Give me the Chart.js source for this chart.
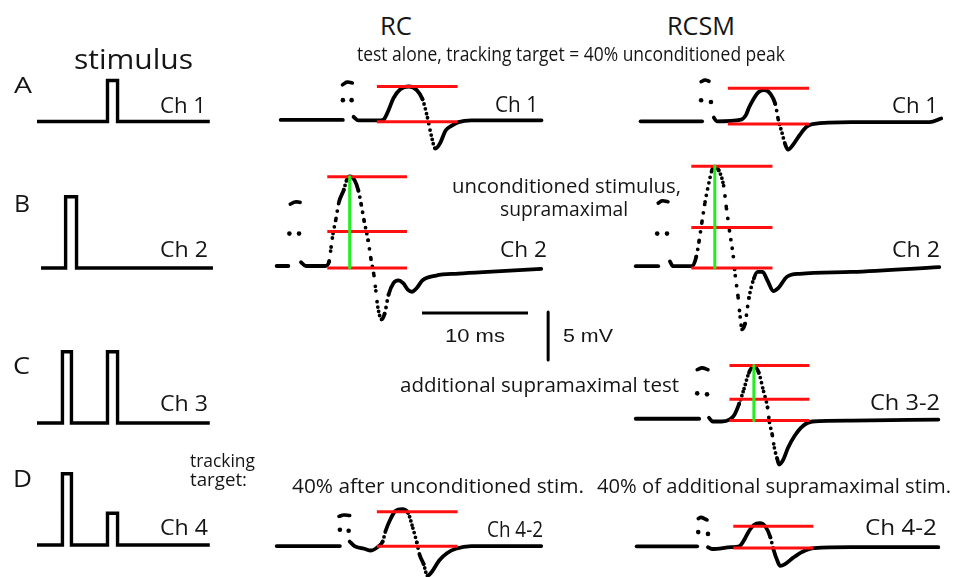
<!DOCTYPE html>
<html><head><meta charset="utf-8">
<script src="https://cdn.jsdelivr.net/npm/chart.js@4.4.1/dist/chart.umd.min.js"></script>
<style>
html,body{margin:0;padding:0;background:#fff;width:954px;height:577px;overflow:hidden;position:relative}
canvas{position:absolute}
.lbl{position:absolute;white-space:pre;line-height:1;color:#151515;font-family:'Open Sans',sans-serif;transform-origin:0 0}
</style></head><body>
<script>
// ---------- DATA (time in ms, voltage in mV, stimulus in relative amplitude) ----------
// stimulus channels
const stimA_t = [0, 6.65, 6.65, 7.6, 7.6, 16.3];
const stimA_a = [0, 0, 0.57, 0.57, 0, 0];
const stimB_t = [0.38, 2.7, 2.7, 3.73, 3.73, 16.6];
const stimB_a = [0, 0, 0.99, 0.99, 0, 0];
const stimC_t = [0, 2.4, 2.4, 3.25, 3.25, 6.65, 6.65, 7.6, 7.6, 16.3];
const stimC_a = [0, 0, 0.99, 0.99, 0, 0, 0.99, 0.99, 0, 0];
const stimD_t = [0, 2.4, 2.4, 3.25, 3.25, 6.65, 6.65, 7.6, 7.6, 16.3];
const stimD_a = [0, 0, 0.99, 0.99, 0, 0, 0.44, 0.44, 0, 0];

// RC, row A
const rcA_pre = [-6.5, -0.47];
const rcA_art_t = [-0.5, -0.05, 0.45];
const rcA_art_v = [4.05, 4.35, 4.25];
const rcA_dot_t = [-0.47, 0.38];
const rcA_dot_v = [2.3, 2.3];
const rcA_t = [0.57, 1.04, 3.2, 3.5, 3.96, 4.43, 5.1, 5.94, 6.7, 7.26, 7.74, 8.1, 8.5, 8.96, 9.5, 10.1, 10.75, 12.0, 18.8];
const rcA_v = [0.4, 0, 0, 0.1, 1.15, 2.5, 3.54, 3.85, 3.44, 2.4, 0.3, -1.67, -3.2, -2.6, -1.15, -0.6, -0.2, 0, 0];
const rcA_levels = [3.85, -0.15];
const rcA_win = [2.83, 10.66];

// RCSM, row A
const smA_pre = [-6.23, -0.28];
const smA_art_t = [-0.38, 0, 0.38];
const smA_art_v = [4.5, 4.7, 4.55];
const smA_dot_t = [-0.38, 0.57];
const smA_dot_v = [2.4, 2.19];
const smA_t = [0.85, 1.13, 3.49, 3.96, 4.25, 4.72, 5.19, 5.75, 6.32, 6.79, 7.08, 7.45, 7.74, 8.02, 8.49, 9.15, 9.81, 10.38, 14.15, 21.7, 22.83];
const smA_v = [0.42, 0, 0.2, 0.73, 1.56, 2.6, 3.33, 3.54, 3.13, 1.98, 0.2, -1.35, -2.6, -3.23, -2.7, -1.56, -0.63, -0.31, -0.1, -0.1, 0.31];
const smA_levels = [3.75, -0.31];
const smA_win = [2.2, 10.05];

// RC, row B (unconditioned, supramaximal)
const rcB_pre = [-1.7, -0.57];
const rcB_art_t = [-0.38, 0.09, 0.57];
const rcB_art_v = [6.75, 7.0, 6.95];
const rcB_dot_t = [-0.47, 0.47];
const rcB_dot_v = [3.54, 3.54];
const rcB_t = [0.66, 1.13, 3.02, 3.4, 3.58, 3.77, 4.06, 4.34, 4.81, 5.09, 5.38, 5.85, 6.23, 6.51, 6.79, 7.17, 7.45, 7.74, 7.92, 8.11, 8.49, 8.77, 9.15, 9.62, 10.09, 10.57, 11.04, 11.42, 11.89, 12.45, 13.77, 15.94, 18.77, 23.96];
const rcB_v = [0.42, 0, 0, 0.52, 2.08, 3.54, 5.21, 6.98, 8.33, 9.38, 9.79, 9.38, 8.23, 6.67, 4.9, 2.81, 0.73, -1.04, -2.71, -4.48, -5.83, -5.21, -3.13, -1.88, -1.56, -1.88, -2.6, -2.81, -2.4, -1.56, -1.04, -0.83, -0.63, -0.31];
const rcB_levels = [9.76, 3.78, -0.21];
const rcB_win = [3.21, 10.94];
const rcB_peak = 5.38;

// RCSM, row B
const smB_pre = [-2.64, -0.47];
const smB_art_t = [-0.47, -0.09, 0.47];
const smB_art_v = [6.85, 7.1, 7.0];
const smB_dot_t = [-0.57, 0.38];
const smB_dot_v = [3.54, 3.54];
const smB_t = [0.66, 0.94, 2.83, 3.21, 3.49, 3.77, 4.06, 4.43, 4.72, 5.0, 5.38, 5.85, 6.13, 6.42, 6.79, 6.98, 7.26, 7.45, 7.64, 7.92, 8.3, 8.77, 9.15, 9.62, 10.09, 10.66, 11.13, 11.98, 13.21, 18.21, 26.7];
const smB_v = [0.52, 0, 0, 1.04, 2.81, 4.9, 6.98, 9.06, 10.42, 10.83, 10.42, 8.75, 6.25, 3.85, 1.04, -1.04, -3.44, -5.52, -6.88, -6.25, -3.44, -1.35, -0.63, -0.63, -1.56, -2.71, -2.4, -1.15, -0.83, -0.63, -0.1];
const smB_levels = [10.87, 4.2, -0.21];
const smB_win = [2.73, 10.57];
const smB_peak = 5.0;

// RCSM, row C (additional supramaximal test)
const smC_pre = [-6.51, -0.38];
const smC_art_t = [-0.57, -0.09, 0.47];
const smC_art_v = [5.55, 5.75, 5.55];
const smC_dot_t = [-0.57, 0.38];
const smC_dot_v = [2.92, 2.81];
const smC_t = [0.57, 0.94, 1.79, 2.55, 3.02, 3.49, 3.96, 4.43, 4.91, 5.38, 5.85, 6.23, 6.42, 6.7, 6.89, 7.17, 7.36, 7.74, 8.21, 8.87, 9.62, 10.57, 14.34, 22.74];
const smC_v = [0.21, -0.21, -0.21, 0, 0.52, 1.77, 3.44, 5.21, 5.94, 5.21, 3.13, 1.35, -0.31, -1.77, -3.13, -4.38, -5.0, -4.48, -3.13, -1.77, -0.73, -0.21, -0.1, 0];
const smC_levels = [6.01, 2.26, -0.1];
const smC_win = [2.55, 10.28];
const smC_peak = 4.91;

// RC, row D
const rcD_pre = [-6.51, -0.38];
const rcD_art_t = [-0.47, 0, 0.57];
const rcD_art_v = [3.44, 3.6, 3.54];
const rcD_dot_t = [-0.38, 0.47];
const rcD_dot_v = [1.88, 1.77];
const rcD_t = [0.57, 1.04, 1.98, 2.64, 3.3, 3.77, 4.06, 4.53, 5.0, 5.66, 6.23, 6.7, 7.08, 7.36, 7.74, 8.11, 8.58, 9.25, 10.0, 10.85, 12.36, 19.15];
const rcD_v = [0.52, 0, -0.31, -0.52, -0.1, 0.52, 1.77, 3.13, 4.06, 4.27, 3.85, 2.08, 0.42, -1.04, -2.08, -3.44, -2.92, -1.67, -0.83, -0.31, 0, 0];
const rcD_levels = [3.96, -0.03];
const rcD_win = [3.21, 11.04];

// RCSM, row D
const smD_pre = [-6.42, -0.57];
const smD_art_t = [-0.47, -0.19, 0.38];
const smD_art_v = [3.35, 3.5, 3.2];
const smD_dot_t = [-0.47, 0.47];
const smD_dot_v = [1.77, 1.56];
const smD_t = [0.47, 0.85, 2.74, 3.49, 3.96, 4.43, 4.91, 5.47, 6.04, 6.51, 6.79, 7.17, 7.45, 7.92, 8.68, 9.62, 10.75, 14.34, 22.74];
const smD_v = [0, -0.21, 0, 0.1, 0.83, 1.88, 2.6, 2.81, 2.4, 1.15, -0.21, -1.56, -2.19, -1.98, -1.25, -0.52, -0.1, 0, 0];
const smD_levels = [2.47, -0.1];
const smD_win = [2.92, 10.66];

// calibration bars
const barMs = 10;
const barMv = 5;

// ---------- DRAWING ----------
const PX_MS = 10.6, PX_MV = 9.6, PX_AMP = 72;
const zip = (t, v) => t.map((x, i) => ({x, y: v[i]}));

function panel(box, origin, datasets, pxY) {
  const cv = document.createElement('canvas');
  cv.width = box[2]; cv.height = box[3];
  cv.style.left = box[0] + 'px'; cv.style.top = box[1] + 'px';
  document.body.appendChild(cv);
  const py = pxY || PX_MV;
  new Chart(cv, {
    type: 'scatter',
    data: {datasets},
    options: {
      responsive: false, animation: false, devicePixelRatio: 1, events: [],
      layout: {padding: 0},
      plugins: {legend: {display: false}, tooltip: {enabled: false}, title: {display: false}},
      scales: {
        x: {type: 'linear', display: false, min: (box[0] - origin[0]) / PX_MS, max: (box[0] + box[2] - origin[0]) / PX_MS},
        y: {type: 'linear', display: false, min: (origin[1] - box[1] - box[3]) / py, max: (origin[1] - box[1]) / py}
      }
    }
  });
}

function dotted(ctx) {
  const dx = Math.abs(ctx.p1.x - ctx.p0.x), dy = Math.abs(ctx.p1.y - ctx.p0.y);
  const s = dy / Math.max(dx, 0.01);
  if (s < 3) return undefined;
  return [0, 1.3 * Math.sqrt(1 + s * s)];
}

function lineSet(data, extra) {
  return Object.assign({data, showLine: true, borderColor: '#000', backgroundColor: '#000',
    borderWidth: 3.8, pointRadius: 0, borderCapStyle: 'round', borderJoinStyle: 'round', clip: false, order: 3}, extra || {});
}

function trace(pre, preV, artT, artV, dotT, dotV, t, v, levels, win, peak) {
  const sets = [
    lineSet([{x: pre[0], y: preV}, {x: pre[1], y: preV}]),
    lineSet(zip(artT, artV), {tension: 0.4, borderWidth: 3.6}),
    {data: zip(dotT, dotV), showLine: false, pointRadius: 2.3, pointBackgroundColor: '#000', pointBorderWidth: 0, order: 3},
    lineSet(zip(t, v), {cubicInterpolationMode: 'monotone', segment: {borderDash: dotted}})
  ];
  levels.forEach(lv => sets.push(lineSet([{x: win[0], y: lv}, {x: win[1], y: lv}],
    {borderColor: '#ff1010', borderWidth: 3, borderCapStyle: 'butt', order: 1})));
  if (peak !== undefined) {
    sets.push(lineSet([{x: peak, y: levels[0]}, {x: peak, y: levels[levels.length - 1]}],
      {borderColor: '#22ee22', borderWidth: 3, borderCapStyle: 'butt', order: 0}));
  }
  return sets;
}

function stim(t, a) {
  return [lineSet(zip(t, a), {borderWidth: 3.4, borderCapStyle: 'butt', borderJoinStyle: 'miter'})];
}

// stimulus column
panel([28, 70, 195, 60], [37, 121.5], stim(stimA_t, stimA_a), PX_AMP);
panel([28, 185, 195, 90], [37, 268], stim(stimB_t, stimB_a), PX_AMP);
panel([28, 340, 195, 90], [37, 423], stim(stimC_t, stimC_a), PX_AMP);
panel([28, 462, 195, 90], [37, 545], stim(stimD_t, stimD_a), PX_AMP);

// RC column
panel([262, 66, 292, 95], [346, 121], trace(rcA_pre, 0.05, rcA_art_t, rcA_art_v, rcA_dot_t, rcA_dot_v, rcA_t, rcA_v, rcA_levels, rcA_win));
panel([262, 160, 292, 172], [291, 267], trace(rcB_pre, 0, rcB_art_t, rcB_art_v, rcB_dot_t, rcB_dot_v, rcB_t, rcB_v, rcB_levels, rcB_win, rcB_peak));
panel([262, 498, 292, 79], [342, 547], trace(rcD_pre, 0, rcD_art_t, rcD_art_v, rcD_dot_t, rcD_dot_v, rcD_t, rcD_v, rcD_levels, rcD_win));

// RCSM column
panel([622, 66, 332, 95], [703, 122], trace(smA_pre, 0, smA_art_t, smA_art_v, smA_dot_t, smA_dot_v, smA_t, smA_v, smA_levels, smA_win));
panel([622, 152, 332, 190], [660, 267], trace(smB_pre, 0, smB_art_t, smB_art_v, smB_dot_t, smB_dot_v, smB_t, smB_v, smB_levels, smB_win, smB_peak));
panel([622, 350, 332, 128], [701, 420], trace(smC_pre, 0.1, smC_art_t, smC_art_v, smC_dot_t, smC_dot_v, smC_t, smC_v, smC_levels, smC_win, smC_peak));
panel([622, 505, 332, 72], [701, 548], trace(smD_pre, 0.1, smD_art_t, smD_art_v, smD_dot_t, smD_dot_v, smD_t, smD_v, smD_levels, smD_win));

// calibration: horizontal 10 ms, vertical 5 mV
panel([410, 300, 150, 70], [422, 313], [
  lineSet([{x: 0, y: 0}, {x: barMs, y: 0}], {borderWidth: 3, borderCapStyle: 'butt'}),
  lineSet([{x: 11.9, y: 0.1}, {x: 11.9, y: 0.1 - barMv}], {borderWidth: 3, borderCapStyle: 'butt'})
]);

// ---------- TEXT ----------
const OPEN = "'Open Sans', sans-serif", ARIAL = "'Liberation Sans', Arial, sans-serif";
function label(text, left, right, base, size, font) {
  const d = document.createElement('div');
  d.className = 'lbl';
  d.textContent = text;
  d.style.fontSize = size + 'px';
  const f = font || OPEN;
  d.style.fontFamily = f;
  const k = (f === ARIAL) ? 0.8465 : 0.888;
  d.style.left = left + 'px';
  d.style.top = (base - k * size) + 'px';
  document.body.appendChild(d);
  const w = d.getBoundingClientRect().width;
  d.style.transform = 'scaleX(' + ((right - left) / w).toFixed(4) + ')';
}
label('stimulus', 74, 193, 69, 27);
label('A', 14, 32, 93, 22);
label('B', 14, 30, 212, 23);
label('C', 13, 30, 374, 23);
label('D', 13, 32, 487, 23);
label('Ch 1', 160, 206, 113, 22);
label('Ch 2', 160, 208, 257, 22);
label('Ch 3', 160, 208, 411, 22);
label('Ch 4', 160, 208, 535, 22);
label('RC', 380, 412, 35, 25);
label('RCSM', 667, 735, 35, 25);
label('test alone, tracking target = 40% unconditioned peak', 357, 785, 61, 19.5);
label('Ch 1', 495, 538, 113, 21);
label('Ch 1', 892, 938, 113, 22);
label('unconditioned stimulus,', 452, 681, 194, 20);
label('supramaximal', 500, 628, 217, 20);
label('Ch 2', 500, 547, 257, 22);
label('Ch 2', 892, 940, 257, 22);
label('10 ms', 445, 505, 343, 18.5, ARIAL);
label('5 mV', 563, 613, 343, 18.5, ARIAL);
label('additional supramaximal test', 400, 679, 393, 20);
label('Ch 3-2', 870, 940, 410, 22);
label('tracking', 190, 255, 468, 19);
label('target:', 190, 247, 487, 19);
label('40% after unconditioned stim.', 292, 584, 494, 20);
label('40% of additional supramaximal stim.', 597, 951, 494, 20);
label('Ch 4-2', 487, 543, 537, 22);
label('Ch 4-2', 865, 937, 535, 22);
</script>
</body></html>
